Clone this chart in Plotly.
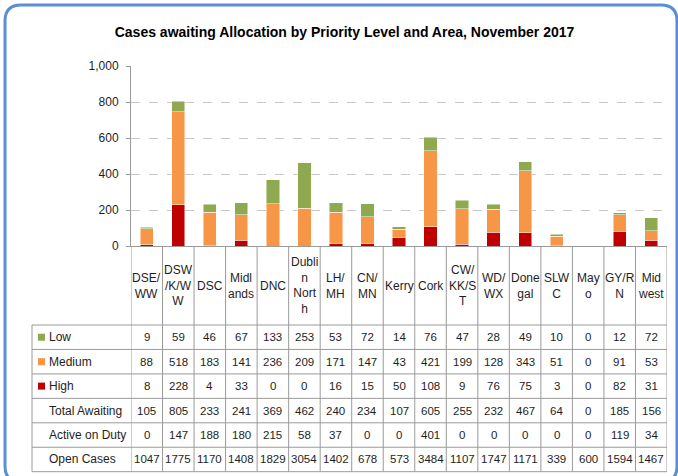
import plotly.graph_objects as go

# areas (x categories) and their wrapped header labels as shown in the table
areas = ["DSE/WW", "DSW/K/WW", "DSC", "Midlands", "DNC", "Dublin North", "LH/MH", "CN/MN",
         "Kerry", "Cork", "CW/KK/ST", "WD/WX", "Donegal", "SLWC", "Mayo", "GY/RN", "Midwest"]
area_labels = ["DSE/<br>WW", "DSW<br>/K/W<br>W", "DSC", "Midl<br>ands", "DNC", "Dubli<br>n<br>Nort<br>h",
               "LH/<br>MH", "CN/<br>MN", "Kerry", "Cork", "CW/<br>KK/S<br>T", "WD/<br>WX", "Done<br>gal",
               "SLW<br>C", "May<br>o", "GY/R<br>N", "Mid<br>west"]

low = [9, 59, 46, 67, 133, 253, 53, 72, 14, 76, 47, 28, 49, 10, 0, 12, 72]
medium = [88, 518, 183, 141, 236, 209, 171, 147, 43, 421, 199, 128, 343, 51, 0, 91, 53]
high = [8, 228, 4, 33, 0, 0, 16, 15, 50, 108, 9, 76, 75, 3, 0, 82, 31]
total_awaiting = [105, 805, 233, 241, 369, 462, 240, 234, 107, 605, 255, 232, 467, 64, 0, 185, 156]
active_on_duty = [0, 147, 188, 180, 215, 58, 37, 0, 0, 401, 0, 0, 0, 0, 0, 119, 34]
open_cases = [1047, 1775, 1170, 1408, 1829, 3054, 1402, 678, 573, 3484, 1107, 1747, 1171, 339, 600, 1594, 1467]

colors = {"Low": "#8EA94F", "Medium": "#F79646", "High": "#C00000"}

W, H = 678, 476
L, R, T, B = 131, 11, 66, 230
PW, PH = W - L - R, H - T - B


def fx(p):
    # pixel x -> paper x
    return (p - L) / PW


def fy(p):
    # pixel y -> paper y
    return (H - B - p) / PH


fig = go.Figure()
for name, vals in [("High", high), ("Medium", medium), ("Low", low)]:
    fig.add_trace(go.Bar(x=areas, y=vals, name=name, marker_color=colors[name],
                         marker_line=dict(color="rgba(255,255,255,0.6)", width=0.8)))

grey = "#9A9A9A"
txt = "#1E1E1E"
shapes = []
annotations = []

# table geometry
head_top, head_bot = 246, 325
row_h = 24.45
rows = [("Low", low), ("Medium", medium), ("High", high), ("Total Awaiting", total_awaiting),
        ("Active on Duty", active_on_duty), ("Open Cases", open_cases)]
n = len(areas)

# vertical lines between columns
for i in range(n + 1):
    shapes.append(dict(type="line", xref="x", yref="paper", x0=i - 0.5, x1=i - 0.5,
                       y0=fy(head_top), y1=fy(head_bot + row_h * len(rows)),
                       line=dict(color=grey, width=1)))
# left border of the label column
shapes.append(dict(type="line", xref="paper", yref="paper", x0=fx(32), x1=fx(32),
                   y0=fy(head_bot), y1=fy(head_bot + row_h * len(rows)), line=dict(color=grey, width=1)))
# horizontal lines
for k in range(len(rows) + 1):
    yy = fy(head_bot + row_h * k)
    shapes.append(dict(type="line", xref="paper", yref="paper", x0=fx(32), x1=1, y0=yy, y1=yy,
                       line=dict(color=grey, width=1)))

# header labels
for a, lab in zip(areas, area_labels):
    annotations.append(dict(x=a, xref="x", y=fy((head_top + head_bot) / 2), yref="paper",
                            text=lab, showarrow=False, font=dict(size=12, color=txt),
                            xanchor="center", yanchor="middle"))

# rows
for k, (name, vals) in enumerate(rows):
    yc = fy(head_bot + row_h * (k + 0.5))
    if name in colors:
        shapes.append(dict(type="rect", xref="paper", yref="paper", x0=fx(38), x1=fx(45),
                           y0=yc - 3.5 / PH, y1=yc + 3.5 / PH, fillcolor=colors[name],
                           line=dict(width=0)))
    annotations.append(dict(x=fx(47), xref="paper", y=yc, yref="paper", text=name,
                            showarrow=False, font=dict(size=12, color=txt),
                            xanchor="left", yanchor="middle"))
    for a, v in zip(areas, vals):
        annotations.append(dict(x=a, xref="x", y=yc, yref="paper", text=str(v),
                                showarrow=False, font=dict(size=11.5, color=txt),
                                xanchor="center", yanchor="middle"))

# rounded blue frame around the chart
x0, y0, x1, y1, r = 5, 5, 677, 482, 16
path = (f"M {fx(x0 + r)},{fy(y0)} L {fx(x1 - r)},{fy(y0)} Q {fx(x1)},{fy(y0)} {fx(x1)},{fy(y0 + r)} "
        f"L {fx(x1)},{fy(y1 - r)} Q {fx(x1)},{fy(y1)} {fx(x1 - r)},{fy(y1)} "
        f"L {fx(x0 + r)},{fy(y1)} Q {fx(x0)},{fy(y1)} {fx(x0)},{fy(y1 - r)} "
        f"L {fx(x0)},{fy(y0 + r)} Q {fx(x0)},{fy(y0)} {fx(x0 + r)},{fy(y0)} Z")
shapes.append(dict(type="path", xref="paper", yref="paper", path=path,
                   line=dict(color="#5A8ED6", width=3)))

fig.update_layout(
    width=W, height=H,
    margin=dict(l=L, r=R, t=T, b=B),
    barmode="stack", bargap=0.58,
    showlegend=False,
    paper_bgcolor="white", plot_bgcolor="white",
    font=dict(family="Liberation Sans, Arial, sans-serif", color=txt),
    title=dict(text="<b>Cases awaiting Allocation by Priority Level and Area, November 2017</b>",
               xref="container", x=344.5 / W, xanchor="center",
               yref="container", y=1 - 32 / H, yanchor="middle",
               font=dict(size=14, color="#000000")),
    xaxis=dict(showticklabels=False, showgrid=False, showline=True, linecolor=grey, linewidth=1,
               ticks="", range=[-0.5, n - 0.5], fixedrange=True),
    yaxis=dict(range=[0, 1000], dtick=200, tickformat=",", showgrid=True, gridcolor="#C8C8C8",
               griddash="dash", gridwidth=1, showline=True, linecolor=grey, linewidth=1,
               ticks="outside", ticklen=4, tickcolor=grey, tickfont=dict(size=12, color=txt),
               ticklabelstandoff=5, zeroline=False),
    shapes=shapes,
    annotations=annotations,
)

# page body has a default 8px margin; drop it so the figure fills the window
fig.write_html("out.html", config={"displayModeBar": False},
               post_script="document.body.style.margin='0';")
